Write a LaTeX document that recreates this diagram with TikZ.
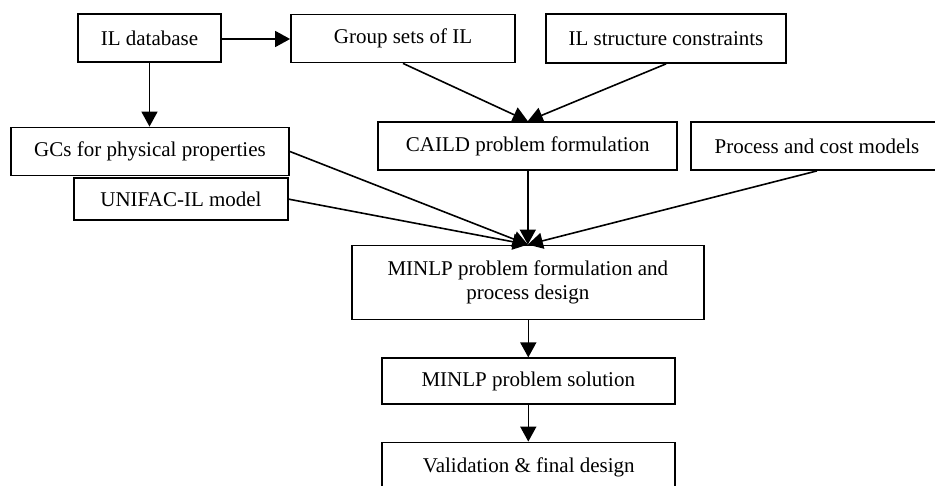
\documentclass[tikz,border=0pt]{standalone}
\usepackage{fontspec}
\setmainfont{Liberation Serif}
\usetikzlibrary{arrows.meta}

\tikzset{
  box/.style={draw=black, line width=1.8pt, inner sep=0pt, align=center,
              font=\fontsize{21}{24}\selectfont},
  flow/.style={line width=1.6pt, -{Triangle[length=15pt,width=16pt]}}
}

\begin{document}
\begin{tikzpicture}[x=1pt, y=-1pt]
  \useasboundingbox (0,0) rectangle (935,486);
  \fill[white] (0,0) rectangle (935,486);
  \clip (0,0) rectangle (935,486);

  % inputs
  \node[box, minimum width=143pt, minimum height=48pt] (db)    at (149.5,38)  {IL database};
  \node[box, minimum width=224pt, minimum height=48pt] (grp)   at (403,38.5)  {Group sets of IL};
  \node[box, minimum width=240pt, minimum height=49pt] (cons)  at (666,38.5)  {IL structure constraints};
  \node[box, minimum width=278pt, minimum height=48pt] (gcs)   at (150,151.5) {GCs for physical properties};
  \node[box, minimum width=214pt, minimum height=42pt] (uni)   at (181,199.2) {UNIFAC-IL model};
  \node[box, minimum width=299pt, minimum height=48pt] (caild) at (527.8,146) {CAILD problem formulation};
  \node[box, minimum width=252pt, minimum height=48pt] (proc)  at (817,146)   {Process and cost models};

  % design steps
  \node[box, minimum width=352pt, minimum height=74pt] (form)  at (527.8,282.5)
       {MINLP problem formulation and\\process design};
  \node[box, minimum width=293pt, minimum height=46pt] (sol)   at (528.3,381.3) {MINLP problem solution};
  \node[box, minimum width=293pt, minimum height=49pt] (val)   at (528.8,467)   {Validation \& final design};

  % connectors
  \draw[flow] (db.east |- 0,39) -- (grp.west |- 0,39);
  \draw[flow] (db.south) -- (gcs.north -| db.south);
  \draw[flow] (grp.south) -- (caild.north);
  \draw[flow] (cons.south) -- (caild.north);
  \draw[flow] (gcs.east) -- (form.north);
  \draw[flow] (uni.east) -- (form.north);
  \draw[flow] (caild.south) -- (form.north);
  \draw[flow] (proc.south) -- (form.north);
  \draw[flow] (form.south -| sol.north) -- (sol.north);
  \draw[flow] (sol.south) -- (val.north -| sol.south);
\end{tikzpicture}
\end{document}
